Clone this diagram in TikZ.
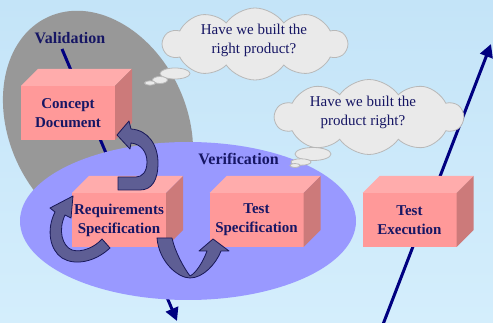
\documentclass[tikz,border=0pt]{standalone}
\usepackage{fontspec}
\setmainfont{Liberation Serif}
\usetikzlibrary{shapes.symbols,arrows.meta}
\definecolor{bgtop}{RGB}{196,228,248}
\definecolor{bgbot}{RGB}{212,238,252}
\definecolor{grayell}{RGB}{152,152,152}
\definecolor{blueell}{RGB}{153,153,255}
\definecolor{navyln}{RGB}{0,0,128}
\definecolor{txt}{RGB}{22,22,100}
\definecolor{frontf}{RGB}{255,153,153}
\definecolor{topf}{RGB}{255,172,172}
\definecolor{sidef}{RGB}{204,122,122}
\definecolor{cloudfill}{RGB}{234,234,234}
\definecolor{cloudline}{RGB}{184,184,184}
\definecolor{arrfill}{RGB}{94,94,148}
\definecolor{arrline}{RGB}{24,24,88}
\newcommand\mycuboid[1]{%
  \fill[topf] (#1.north west) -- ++(17,-17) -- ++(94,0) -- (#1.north east) -- cycle;
  \fill[sidef] (#1.north east) -- ++(17,-17) -- ++(0,54) -- (#1.south east) -- cycle;}
\begin{document}
\begin{tikzpicture}[x=1pt,y=-1pt,
  boxface/.style={fill=frontf, minimum width=94pt, minimum height=54pt, inner sep=0pt, outer sep=0pt,
    align=center, font=\fontsize{15}{19}\selectfont\bfseries, text=txt},
  title/.style={font=\fontsize{16}{19}\selectfont\bfseries, text=txt},
  thought/.style={cloud, cloud puffs=10, cloud puff arc=110, aspect=2.5, fill=cloudfill, draw=cloudline,
    line width=0.8pt, inner sep=0pt},
  thoughttext/.style={align=center, font=\fontsize{15}{19}\selectfont, text=txt},
  bubble/.style={fill=cloudfill, draw=cloudline, line width=0.8pt},
  navyarrow/.style={draw=navyln, line width=3pt, -{Triangle[length=13pt,width=13pt]}},
  blockarrow/.style={fill=arrfill, draw=arrline, line width=0.8pt, line join=round}]
\useasboundingbox (0,0) rectangle (493,323);
\shade[top color=bgtop, bottom color=bgbot] (0,0) rectangle (493,323);
% gray validation ellipse
\fill[grayell, shift={(98,125)}, rotate=-65] (0,0) ellipse [x radius=119, y radius=89];
% validation line
\coordinate (vb) at (62,49);
\coordinate (ve) at (177,321);
\draw[navyarrow] (vb) -- (ve);
% blue verification ellipse
\fill[blueell] (188,221) ellipse [x radius=168, y radius=79];
% right line
\coordinate (rb) at (382,327);
\coordinate (re) at (491,44);
\draw[navyarrow] (rb) -- (re);
% clouds
\node[thought, minimum width=184pt, minimum height=72pt] (c1) at (255,44) {};
\filldraw[bubble] (175,73.5) ellipse [x radius=15, y radius=5.5];
\filldraw[bubble] (160,80) ellipse [x radius=7.5, y radius=3.5];
\filldraw[bubble] (150,83) ellipse [x radius=5.5, y radius=2.2];
\node[thoughttext] (t1) at (254,40) {Have we built the\\right product?};
\node[thought, minimum width=188pt, minimum height=75pt] (c2) at (369,117) {};
\filldraw[bubble] (313,154) ellipse [x radius=18, y radius=6.5];
\filldraw[bubble] (301,162) ellipse [x radius=10, y radius=3.2];
\filldraw[bubble] (295,165.5) ellipse [x radius=5, y radius=2];
\node[thoughttext] (t2) at (363,112) {Have we built the\\product right?};
% boxes
\node[boxface] (concept) at (68,113) {Concept\\Document};
\mycuboid{concept}
\node[boxface] (req) at (119,220) {Requirements\\Specification};
\mycuboid{req}
\node[boxface] (tspec) at (256.5,220) {Test\\Specification};
\mycuboid{tspec}
\node[boxface] (texec) at (409.5,220) {Test\\Execution};
\mycuboid{texec}
% block arrows
\filldraw[blockarrow] (118,190) -- (140,190) .. controls (152,190) and (158,180) .. (158,163)
  .. controls (158,145) and (148,130) .. (131,129) -- (129,121) -- (117,135) -- (130,149) -- (131,143)
  .. controls (141,144) and (147,152) .. (147,162) .. controls (147,172) and (142,177) .. (136,177)
  -- (118,177) -- cycle;
\filldraw[blockarrow] (110,248) .. controls (95,262) and (75,266) .. (62,258)
  .. controls (50,250) and (46,230) .. (55,212) -- (50,208) -- (73,196) -- (71,218) -- (65,215)
  .. controls (58,230) and (62,246) .. (72,250) .. controls (82,253) and (95,247) .. (102,239) -- cycle;
\filldraw[blockarrow] (157,238) .. controls (159,262) and (178,278) .. (190,278)
  .. controls (203,278) and (216,264) .. (221,251) -- (229,251) -- (213,239) -- (199,251) -- (207,251)
  .. controls (203,262) and (196,273) .. (190,276) .. controls (184,268) and (175,252) .. (172,238) -- cycle;
% titles
\node[title] (val) at (70,38) {Validation};
\node[title] (ver) at (238.5,159) {Verification};
\end{tikzpicture}
\end{document}
